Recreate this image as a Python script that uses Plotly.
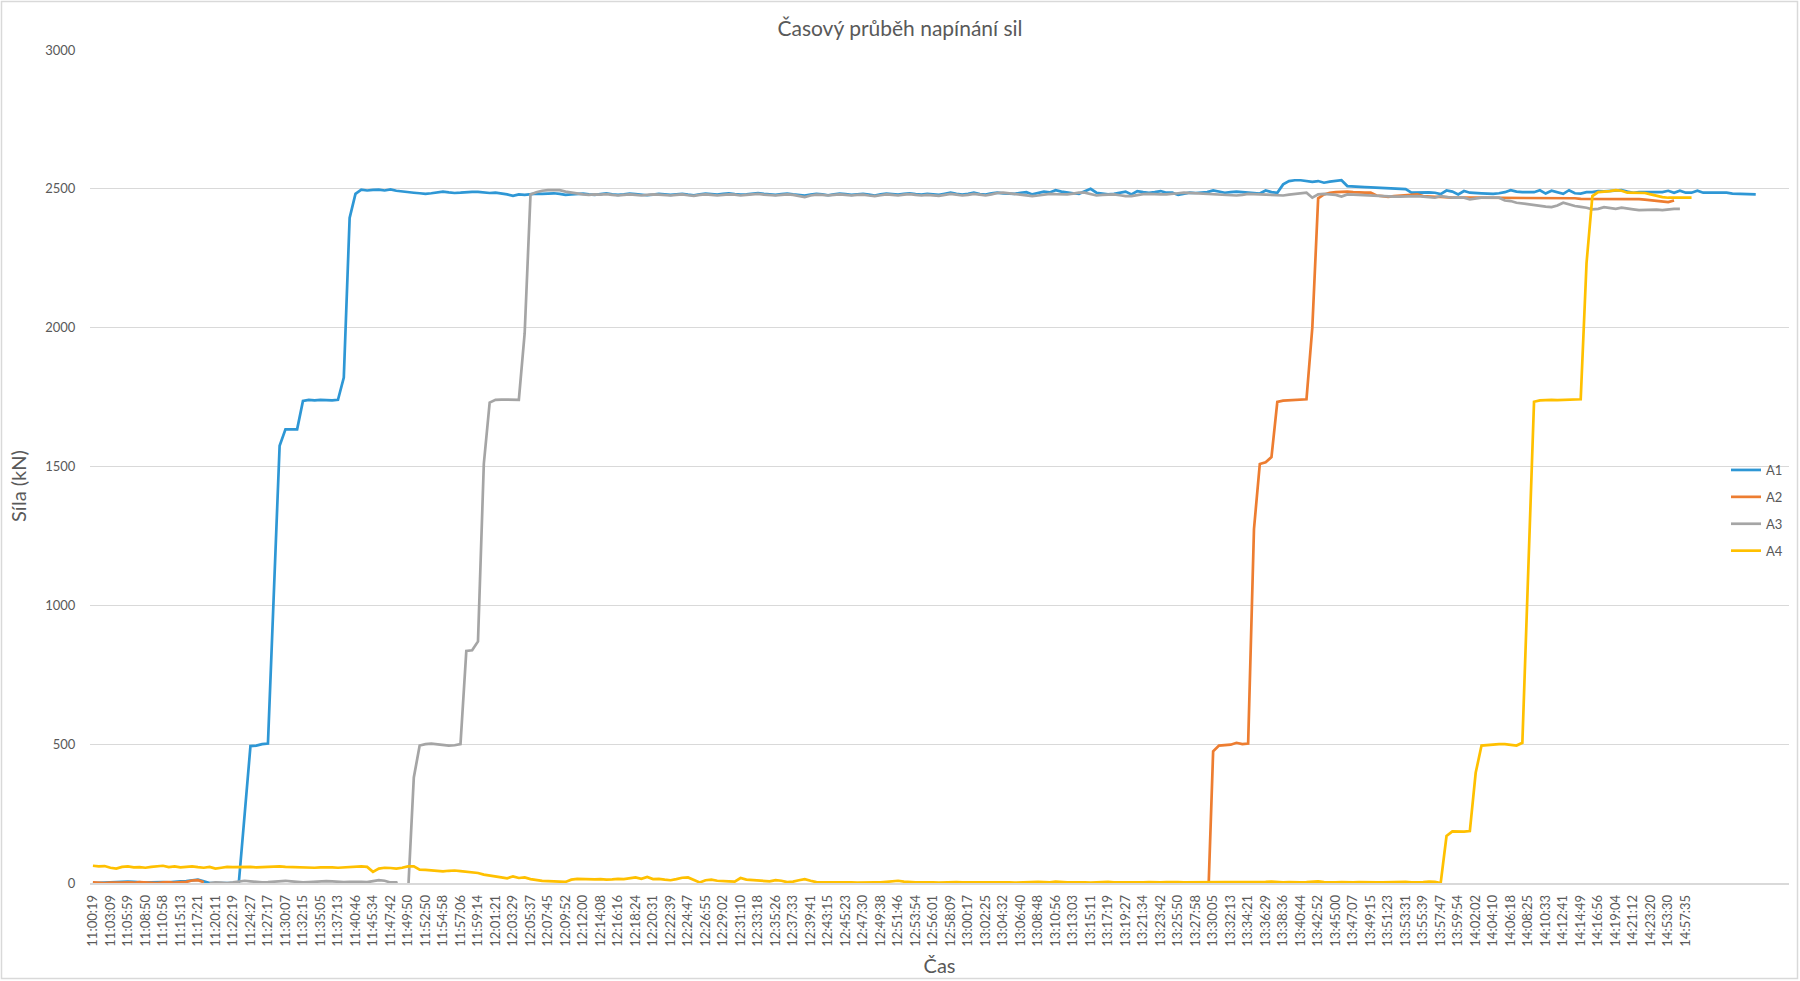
import plotly.graph_objects as go

# ---------------- data ----------------
series_names = ["A1", "A2", "A3", "A4"]

# category labels shown on the time axis (one label every LABEL_STEP samples)
tick_labels = [
    "11:00:19", "11:03:09", "11:05:59", "11:08:50", "11:10:58", "11:15:13", "11:17:21", "11:20:11",
    "11:22:19", "11:24:27", "11:27:17", "11:30:07", "11:32:15", "11:35:05", "11:37:13", "11:40:46",
    "11:45:34", "11:47:42", "11:49:50", "11:52:50", "11:54:58", "11:57:06", "11:59:14", "12:01:21",
    "12:03:29", "12:05:37", "12:07:45", "12:09:52", "12:12:00", "12:14:08", "12:16:16", "12:18:24",
    "12:20:31", "12:22:39", "12:24:47", "12:26:55", "12:29:02", "12:31:10", "12:33:18", "12:35:26",
    "12:37:33", "12:39:41", "12:43:15", "12:45:23", "12:47:30", "12:49:38", "12:51:46", "12:53:54",
    "12:56:01", "12:58:09", "13:00:17", "13:02:25", "13:04:32", "13:06:40", "13:08:48", "13:10:56",
    "13:13:03", "13:15:11", "13:17:19", "13:19:27", "13:21:34", "13:23:42", "13:25:50", "13:27:58",
    "13:30:05", "13:32:13", "13:34:21", "13:36:29", "13:38:36", "13:40:44", "13:42:52", "13:45:00",
    "13:47:07", "13:49:15", "13:51:23", "13:53:31", "13:55:39", "13:57:47", "13:59:54", "14:02:02",
    "14:04:10", "14:06:18", "14:08:25", "14:10:33", "14:12:41", "14:14:49", "14:16:56", "14:19:04",
    "14:21:12", "14:23:20", "14:53:30", "14:57:35",
]
LABEL_STEP = 3

A1 = [
    0, 1, 3, 4, 3, 4, 5, 4, 2, 1,
    2, 3, 3, 2, 5, 6, 7, 9, 12, 6,
    0, 0, 0, 0, 0, 0, 245, 493, 495, 500,
    502, 1040, 1575, 1634, 1635, 1634, 1736, 1740, 1738, 1740,
    1739, 1738, 1740, 1820, 2395, 2482, 2497, 2494, 2496, 2497,
    2494, 2498, 2493, 2490, 2488, 2486, 2484, 2482, 2484, 2487,
    2490, 2487, 2485, 2486, 2488, 2489, 2489, 2487, 2485, 2486,
    2484, 2480, 2475, 2480, 2478, 2480, 2483, 2482, 2483, 2484,
    2482, 2478, 2480, 2482, 2483, 2480, 2478, 2481, 2484, 2480,
    2478, 2480, 2483, 2481, 2478, 2477, 2479, 2482, 2480, 2478,
    2480, 2482, 2479, 2477, 2480, 2483, 2481, 2479, 2482, 2484,
    2481, 2479, 2480, 2483, 2485, 2482, 2480, 2478, 2481, 2483,
    2480, 2478, 2476, 2479, 2482, 2480, 2477, 2480, 2483, 2481,
    2478, 2480, 2482, 2479, 2476, 2480, 2483, 2481, 2479, 2482,
    2484, 2481, 2479, 2482, 2480, 2478, 2482, 2486, 2482, 2479,
    2482, 2486, 2481, 2479, 2484, 2486, 2484, 2482, 2482, 2486,
    2488, 2480, 2484, 2490, 2487, 2495, 2490, 2486, 2484, 2482,
    2490, 2500, 2486, 2484, 2480, 2482, 2486, 2490, 2480, 2492,
    2488, 2486, 2488, 2492, 2486, 2486, 2478, 2482, 2486, 2485,
    2486, 2488, 2494, 2490, 2486, 2488, 2490, 2488, 2486, 2484,
    2483, 2494, 2488, 2486, 2516, 2528, 2531, 2531, 2529, 2525,
    2528, 2522, 2526, 2528, 2531, 2510, 2508, 2507, 2506, 2505,
    2504, 2503, 2503, 2502, 2500, 2499, 2486, 2487, 2488, 2487,
    2486, 2481, 2494, 2490, 2480, 2492, 2486, 2486, 2484, 2483,
    2482, 2484, 2488, 2495, 2490, 2488, 2489, 2488, 2495, 2483,
    2493, 2488, 2482, 2495, 2484, 2483, 2488, 2488, 2492, 2491,
    2492, 2494, 2495, 2490, 2486, 2488, 2488, 2488, 2488, 2488,
    2493, 2486, 2493, 2486, 2486, 2493, 2486, 2486, 2486, 2486,
    2486, 2483, 2482, 2481, 2480, 2480,
]

A2 = (
    [2, 0, 0, 1, 0, 1, 2, 1, 3, 2,
     1, 0, 2, 3, 1, 2, 4, 9, 10, 3]
    + [None] * 171  # no readings for A2 in this period
    + [-150, 474, 495, 497, 498, 505, 500, 502, 1275,
       1509, 1515, 1534, 1733, 1737, 1738, 1738, 1740, 1742, 2000,
       2466, 2480, 2486, 2488, 2490, 2490, 2488, 2486, 2486, 2486,
       2476, 2474, 2471, 2474, 2476, 2478, 2480, 2480, 2474, 2472,
       2471, 2471, 2469, 2468, 2468, 2467, 2468, 2468, 2468, 2468,
       2468, 2467, 2468, 2468, 2468, 2468, 2468, 2468, 2468, 2467,
       2468, 2468, 2467, 2468, 2466, 2464, 2464, 2464, 2464, 2464,
       2464, 2464, 2464, 2464, 2464, 2463, 2461, 2459, 2455, 2453,
       2452, 2458]
)

A3 = (
    [None] * 20  # no readings for A3 at the start
    + [0, 2, 1, 0, 2, 5, 8, 6, 3, 2,
       3, 4, 7, 8, 6, 3, 2, 3, 5, 6,
       7, 6, 4, 3, 4, 5, 4, 3, 6, 10,
       8, 2, 2, -60, -40, 380, 495, 500, 502, 500,
       498, 495, 496, 500, 836, 838, 870, 1510, 1730, 1740,
       1741, 1740, 1739, 1740, 1980, 2480, 2488, 2493, 2495, 2496,
       2495, 2490, 2486, 2482, 2480, 2478, 2480, 2479, 2481, 2478,
       2476, 2478, 2480, 2478, 2476, 2478, 2480, 2479, 2477, 2476,
       2478, 2480, 2477, 2475, 2478, 2480, 2478, 2476, 2478, 2480,
       2479, 2476, 2478, 2480, 2482, 2479, 2477, 2476, 2478, 2480,
       2478, 2475, 2470, 2476, 2479, 2478, 2476, 2478, 2480, 2478,
       2476, 2478, 2479, 2476, 2474, 2477, 2480, 2478, 2476, 2479,
       2481, 2478, 2476, 2478, 2477, 2475, 2478, 2482, 2479, 2476,
       2478, 2482, 2479, 2476, 2480, 2485, 2486, 2484, 2482, 2478,
       2476, 2474, 2476, 2480, 2482, 2481, 2480, 2480, 2483, 2486,
       2486, 2480, 2476, 2478, 2480, 2480, 2477, 2474, 2474, 2478,
       2481, 2482, 2480, 2480, 2480, 2481, 2484, 2486, 2485, 2483,
       2482, 2481, 2480, 2478, 2477, 2477, 2476, 2478, 2482, 2481,
       2480, 2480, 2478, 2477, 2476, 2479, 2481, 2482, 2486, 2468,
       2480, 2482, 2480, 2478, 2472, 2480, 2479, 2478, 2476, 2476,
       2475, 2472, 2472, 2472, 2472, 2473, 2474, 2474, 2472, 2470,
       2468, 2474, 2470, 2468, 2468, 2468, 2462, 2465, 2468, 2468,
       2468, 2468, 2458, 2456, 2450, 2447, 2444, 2440, 2438, 2436,
       2434, 2440, 2450, 2444, 2438, 2435, 2432, 2426, 2428, 2434,
       2430, 2428, 2432, 2428, 2426, 2423, 2424, 2426, 2425, 2423,
       2426, 2428, 2428]
)

A4 = [
    62, 60, 61, 55, 52, 58, 60, 56, 57, 55,
    58, 60, 62, 57, 60, 56, 58, 60, 57, 55,
    58, 52, 55, 58, 57, 58, 57, 58, 56, 57,
    58, 59, 60, 58, 57, 57, 55, 56, 55, 56,
    57, 56, 55, 56, 57, 58, 60, 58, 40, 52,
    55, 54, 52, 55, 60, 60, 48, 47, 45, 44,
    42, 44, 45, 43, 40, 38, 36, 30, 26, 22,
    20, 17, 24, 18, 20, 14, 10, 8, 7, 5,
    5, 4, 12, 15, 14, 14, 13, 14, 12, 13,
    15, 14, 18, 20, 15, 22, 14, 15, 12, 10,
    14, 19, 20, 12, 2, 10, 12, 8, 6, 6,
    5, 18, 12, 10, 8, 7, 6, 10, 8, 3,
    5, 10, 14, 8, 3, 2, 3, 2, 2, 3,
    2, 1, 2, 3, 2, 2, 4, 6, 8, 5,
    3, 2, 2, 3, 2, 1, 2, 2, 3, 2,
    2, 3, 4, 3, 2, 2, 3, 2, 1, 2,
    3, 2, 4, 3, 2, 5, 3, 2, 2, 3,
    2, 1, 2, 3, 4, 2, 3, 2, 2, 1,
    2, 3, 2, 2, 3, 4, 3, 2, 2, 3,
    2, 3, 2, 3, 4, 3, 2, 2, 3, 2,
    3, 4, 5, 3, 2, 3, 2, 2, 3, 4,
    6, 3, 2, 2, 3, 2, 2, 3, 2, 3,
    2, 2, 3, 2, 3, 4, 2, 2, 3, 5,
    4, 0, 169, 186, 185, 185, 187, 397, 495, 497,
    498, 500, 500, 498, 495, 505, 1120, 1733, 1738, 1740,
    1740, 1739, 1740, 1740, 1741, 1742, 2233, 2474, 2488, 2489,
    2492, 2495, 2493, 2486, 2486, 2486, 2485, 2480, 2474, 2470,
    2468, 2468, 2468, 2468, 2468,
]

series_values = [A1, A2, A3, A4]
series_colors = ["#2E97D5", "#ED7D31", "#A5A5A5", "#FFC000"]

# ---------------- layout constants ----------------
W, H = 1800, 981
ML, MR, MT, MB = 90, 11, 50, 98
PW, PH = W - ML - MR, H - MT - MB
FONT = "Lato"
TXT = "#595959"
GRID = "#D9D9D9"

fig = go.Figure()
for name, vals, col in zip(series_names, series_values, series_colors):
    fig.add_trace(go.Scatter(
        x=list(range(len(vals))), y=vals, name=name, mode="lines",
        line=dict(color=col, width=2.7), legendgroup=name,
        connectgaps=False,
    ))

fig.update_layout(
    width=W, height=H,
    margin=dict(l=ML, r=MR, t=MT, b=MB, autoexpand=False),
    paper_bgcolor="white", plot_bgcolor="white",
    font=dict(family=FONT, color=TXT, size=13),
    title=dict(text="Časový průběh napínání sil", x=0.5, xref="container",
               y=1 - 29 / H, yanchor="middle", xanchor="center",
               font=dict(family=FONT, size=21, color=TXT)),
    legend=dict(x=(1726 - ML) / PW, xanchor="left", y=(MT + PH - 455) / PH, yanchor="top",
                bgcolor="rgba(0,0,0,0)", font=dict(size=13, color=TXT),
                traceorder="grouped", tracegroupgap=7, itemwidth=30),
    showlegend=True,
)

fig.update_xaxes(
    automargin=False,
    range=[-0.5, 290.7],
    tickmode="array",
    tickvals=[i * LABEL_STEP for i in range(len(tick_labels))],
    ticktext=tick_labels,
    tickangle=-90,
    tickfont=dict(family=FONT, size=13, color=TXT),
    ticks="outside", ticklen=5, tickcolor="rgba(0,0,0,0)",
    showgrid=False, zeroline=False,
    showline=True, linecolor=GRID, linewidth=1.5,
    title=dict(text="Čas", font=dict(family=FONT, size=20, color=TXT), standoff=13),
)
fig.update_yaxes(
    automargin=False,
    range=[0, 3000], dtick=500, tick0=0,
    tickfont=dict(family=FONT, size=13, color=TXT),
    ticks="outside", ticklen=11, tickcolor="rgba(0,0,0,0)",
    showgrid=True, gridcolor=GRID, gridwidth=1.3,
    zeroline=False, showline=False,
)

# y-axis title
fig.add_annotation(
    text="Síla (kN)", textangle=-90, showarrow=False,
    xref="paper", yref="paper",
    x=(18 - ML) / PW, y=(MT + PH - 486) / PH,
    xanchor="center", yanchor="middle",
    font=dict(family=FONT, size=20, color=TXT),
)

# chart-area border
fig.add_shape(
    type="rect", xref="paper", yref="paper", layer="below",
    x0=(1.5 - ML) / PW, x1=(1797.5 - ML) / PW,
    y0=(MT + PH - 978.5) / PH, y1=(MT + PH - 1.5) / PH,
    line=dict(color=GRID, width=1.5), fillcolor="rgba(0,0,0,0)",
)

fig.write_html(
    "out.html",
    config={"displayModeBar": False},
    post_script="document.body.style.margin='0';document.body.style.overflow='hidden';",
)
